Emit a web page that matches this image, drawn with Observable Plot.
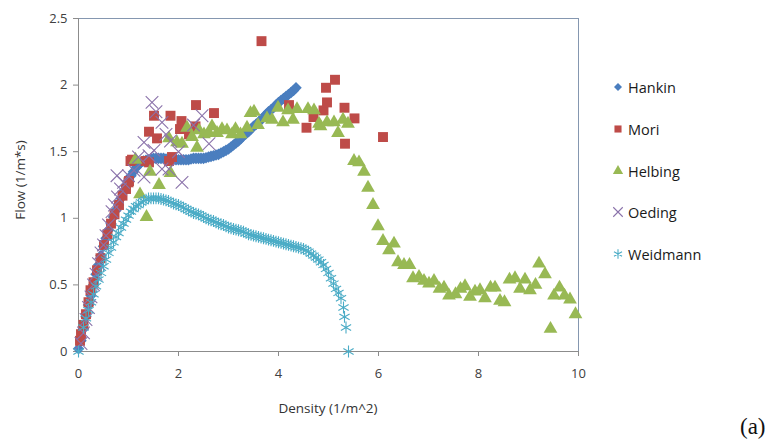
<!DOCTYPE html>
<html><head><meta charset="utf-8">
<script src="https://cdn.jsdelivr.net/npm/d3@7"></script>
<script src="https://cdn.jsdelivr.net/npm/@observablehq/plot@0.6"></script>
<style>
body{margin:0;background:#fff;}
#wrap{position:relative;width:768px;height:444px;font-family:"Open Sans",sans-serif;background:#fff;overflow:hidden;}
#wrap svg.plot{position:absolute;left:0;top:0;}
.lg{position:absolute;left:611px;font-size:14.5px;color:#1a1a1a;display:flex;align-items:center;white-space:nowrap;}
.lg svg{margin-right:3px;}
#xt{position:absolute;left:228px;width:200px;top:399px;text-align:center;font-size:13.5px;color:#333;}
#yt{position:absolute;left:20px;top:180px;transform:translate(-50%,-50%) rotate(-90deg);font-size:13.5px;color:#333;white-space:nowrap;}
#tag{position:absolute;left:740px;top:414px;font-family:"Liberation Serif",serif;font-size:23px;color:#111;}
</style></head><body><div id="wrap"></div>
<script>
// ---- data (density, flow) ----
const seriesNames = ["Hankin","Mori","Helbing","Oeding","Weidmann"];
const xTicks = [0,2,4,6,8,10];
const yTicks = [0,0.5,1,1.5,2,2.5];

const hankin = [[0,0.02],[0.05,0.08],[0.1,0.17],[0.15,0.26],[0.2,0.35],[0.25,0.42],[0.3,0.5],[0.35,0.58],[0.4,0.65],[0.45,0.72],[0.5,0.79],[0.55,0.85],[0.6,0.91],[0.65,0.96],[0.7,1.01],[0.75,1.06],[0.8,1.1],[0.85,1.15],[0.9,1.2],[0.95,1.24],[1.0,1.28],[1.05,1.32],[1.1,1.35],[1.15,1.38],[1.2,1.4],[1.25,1.42],[1.3,1.43],[1.35,1.435],[1.4,1.44],[1.45,1.445],[1.5,1.45],[1.55,1.45],[1.6,1.45],[1.65,1.45],[1.7,1.45],[1.75,1.445],[1.8,1.44],[1.85,1.44],[1.9,1.44],[1.95,1.44],[2.0,1.44],[2.05,1.44],[2.1,1.44],[2.15,1.44],[2.2,1.44],[2.25,1.445],[2.3,1.45],[2.35,1.45],[2.4,1.45],[2.45,1.45],[2.5,1.45],[2.55,1.455],[2.6,1.46],[2.65,1.465],[2.7,1.47],[2.75,1.475],[2.8,1.48],[2.85,1.49],[2.9,1.5],[2.95,1.51],[3.0,1.52],[3.05,1.535],[3.1,1.55],[3.15,1.565],[3.2,1.58],[3.25,1.6],[3.3,1.62],[3.35,1.635],[3.4,1.65],[3.45,1.67],[3.5,1.69],[3.55,1.705],[3.6,1.72],[3.65,1.74],[3.7,1.76],[3.75,1.78],[3.8,1.8],[3.85,1.815],[3.9,1.83],[3.95,1.85],[4.0,1.87],[4.05,1.885],[4.1,1.9],[4.15,1.915],[4.2,1.93],[4.25,1.945],[4.3,1.96],[4.35,1.98]];

const mori = [[0.03,0.08],[0.05,0.13],[0.1,0.2],[0.15,0.28],[0.2,0.37],[0.24,0.46],[0.3,0.52],[0.37,0.61],[0.44,0.7],[0.51,0.8],[0.58,0.88],[0.65,0.96],[0.72,1.03],[0.81,1.1],[0.88,1.17],[0.95,1.22],[1.0,1.27],[1.01,1.28],[1.04,1.43],[1.07,1.44],[1.34,1.43],[1.41,1.42],[1.41,1.65],[1.51,1.77],[1.57,1.6],[1.81,1.43],[1.84,1.77],[1.87,1.46],[2.03,1.67],[2.06,1.73],[2.21,1.63],[2.34,1.69],[2.35,1.85],[2.71,1.79],[3.66,2.33],[4.21,1.85],[4.56,1.68],[4.7,1.76],[4.9,1.81],[4.95,1.98],[4.97,1.87],[5.13,2.04],[5.32,1.83],[5.33,1.56],[5.52,1.75],[6.09,1.61]];

const helbing = [[1.14,1.44],[1.23,1.18],[1.36,1.01],[1.43,1.35],[1.61,1.25],[1.84,1.34],[1.81,1.6],[1.97,1.57],[2.07,1.56],[2.17,1.68],[2.27,1.61],[2.37,1.53],[2.41,1.66],[2.51,1.63],[2.61,1.64],[2.67,1.69],[2.77,1.64],[2.87,1.67],[2.97,1.66],[3.07,1.63],[3.14,1.67],[3.24,1.63],[3.37,1.68],[3.44,1.79],[3.51,1.8],[3.59,1.7],[3.77,1.75],[3.87,1.74],[3.99,1.83],[4.09,1.72],[4.19,1.81],[4.29,1.74],[4.37,1.82],[4.59,1.82],[4.71,1.81],[4.81,1.71],[4.84,1.69],[4.97,1.72],[5.11,1.72],[5.19,1.64],[5.29,1.74],[5.39,1.71],[5.51,1.43],[5.61,1.42],[5.71,1.35],[5.79,1.23],[5.89,1.1],[5.99,0.94],[6.09,0.83],[6.21,0.76],[6.31,0.81],[6.39,0.67],[6.51,0.65],[6.62,0.65],[6.69,0.55],[6.81,0.56],[6.91,0.53],[7.01,0.51],[7.11,0.53],[7.22,0.47],[7.31,0.48],[7.41,0.42],[7.54,0.43],[7.64,0.47],[7.73,0.49],[7.83,0.41],[7.93,0.45],[8.03,0.46],[8.13,0.4],[8.24,0.48],[8.33,0.48],[8.43,0.38],[8.52,0.37],[8.62,0.54],[8.73,0.55],[8.83,0.47],[8.93,0.54],[9.03,0.46],[9.14,0.5],[9.21,0.66],[9.33,0.58],[9.44,0.17],[9.51,0.42],[9.62,0.48],[9.72,0.42],[9.83,0.39],[9.94,0.28]];

const oeding = [[0.05,0.06],[0.1,0.14],[0.15,0.24],[0.2,0.33],[0.25,0.41],[0.3,0.5],[0.35,0.58],[0.4,0.66],[0.45,0.74],[0.5,0.8],[0.55,0.87],[0.6,0.95],[0.67,1.05],[0.72,1.1],[0.78,1.16],[0.84,1.22],[0.9,1.27],[0.77,1.32],[1.0,1.32],[1.11,1.36],[1.2,1.46],[1.31,1.31],[1.31,1.57],[1.41,1.47],[1.47,1.87],[1.51,1.51],[1.55,1.8],[1.67,1.72],[1.67,1.37],[1.75,1.63],[1.81,1.37],[1.84,1.58],[2.0,1.5],[2.07,1.27],[2.3,1.7],[2.47,1.77],[2.61,1.56]];

const weidmann = [[0,0],[0.1,0.18],[0.15,0.25],[0.2,0.31],[0.25,0.37],[0.3,0.43],[0.35,0.49],[0.4,0.54],[0.45,0.59],[0.5,0.64],[0.55,0.69],[0.6,0.74],[0.65,0.78],[0.7,0.82],[0.75,0.86],[0.8,0.89],[0.85,0.93],[0.9,0.96],[0.95,0.99],[1.0,1.02],[1.05,1.05],[1.1,1.07],[1.15,1.09],[1.2,1.1],[1.25,1.12],[1.3,1.13],[1.35,1.14],[1.4,1.15],[1.45,1.15],[1.5,1.15],[1.55,1.15],[1.6,1.15],[1.65,1.145],[1.7,1.14],[1.75,1.135],[1.8,1.13],[1.85,1.12],[1.9,1.11],[1.95,1.105],[2.0,1.1],[2.05,1.09],[2.1,1.08],[2.15,1.07],[2.2,1.06],[2.25,1.05],[2.3,1.04],[2.35,1.035],[2.4,1.03],[2.45,1.02],[2.5,1.01],[2.55,1.0],[2.6,0.99],[2.65,0.985],[2.7,0.98],[2.75,0.97],[2.8,0.96],[2.85,0.955],[2.9,0.95],[2.95,0.94],[3.0,0.93],[3.05,0.925],[3.1,0.92],[3.15,0.915],[3.2,0.91],[3.25,0.905],[3.3,0.9],[3.35,0.89],[3.4,0.88],[3.45,0.875],[3.5,0.87],[3.55,0.865],[3.6,0.86],[3.65,0.855],[3.7,0.85],[3.75,0.845],[3.8,0.84],[3.85,0.835],[3.9,0.83],[3.95,0.825],[4.0,0.82],[4.05,0.815],[4.1,0.81],[4.15,0.805],[4.2,0.8],[4.25,0.795],[4.3,0.79],[4.35,0.785],[4.4,0.78],[4.45,0.775],[4.5,0.77],[4.55,0.76],[4.6,0.75],[4.65,0.735],[4.7,0.72],[4.75,0.705],[4.8,0.69],[4.85,0.67],[4.9,0.65],[4.95,0.62],[5.0,0.59],[5.05,0.55],[5.1,0.51],[5.15,0.47],[5.2,0.44],[5.25,0.4],[5.3,0.33],[5.32,0.26],[5.35,0.18],[5.4,0.0]];

// ---- styles ----
const colors = {Hankin:"#4a7ebf", Mori:"#be4b48", Helbing:"#98b954", Oeding:"#8a72aa", Weidmann:"#4bacc6"};
const symbols = {Hankin:"diamond2", Mori:"square", Helbing:"triangle", Oeding:"times", Weidmann:"asterisk"};
const filled = {Hankin:true, Mori:true, Helbing:true, Oeding:false, Weidmann:false};
const radius = {Hankin:5.2, Mori:5.6, Helbing:5.1, Oeding:5.8, Weidmann:5.6};
const legendRadius = {Hankin:3.6, Mori:4.0, Helbing:3.8, Oeding:4.4, Weidmann:4.4};
const dataBy = {Hankin:hankin, Mori:mori, Helbing:helbing, Oeding:oeding, Weidmann:weidmann};

function dots(name){
  const o = {x:d=>d[0], y:d=>d[1], symbol: symbols[name], r: radius[name]};
  if (filled[name]) o.fill = colors[name]; else {o.stroke = colors[name]; o.strokeWidth = 1.1; o.fill = "none";}
  return Plot.dot(dataBy[name], o);
}

const plot = Plot.plot({
  width: 768, height: 444,
  marginLeft: 78, marginRight: 190, marginTop: 18, marginBottom: 93,
  x: {domain: [0,10], ticks: xTicks},
  y: {domain: [0,2.5], ticks: yTicks},
  style: {fontFamily: "Open Sans, sans-serif", fontSize: "13px", color: "#404040", background: "transparent", overflow: "visible"},
  marks: [
    Plot.frame({stroke: "#8597b0"}),
    Plot.ruleY([0], {stroke: "#8c8c8c"}),
    Plot.ruleX([0], {stroke: "#8c8c8c"}),
    Plot.axisX({ticks: xTicks, tickSize: 5, tickPadding: 12, label: null, stroke: "#8c8c8c"}),
    Plot.axisY({ticks: yTicks, tickSize: 5, tickPadding: 6, label: null, stroke: "#8c8c8c", tickFormat: d => String(d)}),
    ...seriesNames.map(dots)
  ]
});
plot.classList.add("plot");
const wrap = document.getElementById("wrap");
wrap.appendChild(plot);

// legend
const legendTop = [87,129,171,212,254];
const symMap = {diamond2:d3.symbolDiamond2, square:d3.symbolSquare, triangle:d3.symbolTriangle, times:d3.symbolTimes, asterisk:d3.symbolAsterisk};
seriesNames.forEach((name,i) => {
  const row = document.createElement("div");
  row.className = "lg";
  row.style.top = (legendTop[i]-10) + "px";
  row.style.height = "20px";
  const s = d3.create("svg").attr("width",14).attr("height",14);
  const size = Math.PI*legendRadius[name]*legendRadius[name];
  const p = s.append("path").attr("transform","translate(7,7)").attr("d", d3.symbol(symMap[symbols[name]], size)());
  if (filled[name]) p.attr("fill", colors[name]); else p.attr("fill","none").attr("stroke", colors[name]).attr("stroke-width",1.1);
  row.appendChild(s.node());
  const t = document.createElement("span");
  t.textContent = name;
  row.appendChild(t);
  wrap.appendChild(row);
});

const xt = document.createElement("div"); xt.id = "xt"; xt.textContent = "Density (1/m^2)"; wrap.appendChild(xt);
const yt = document.createElement("div"); yt.id = "yt"; yt.textContent = "Flow (1/m*s)"; wrap.appendChild(yt);
const tag = document.createElement("div"); tag.id = "tag"; tag.textContent = "(a)"; wrap.appendChild(tag);
</script></body></html>
